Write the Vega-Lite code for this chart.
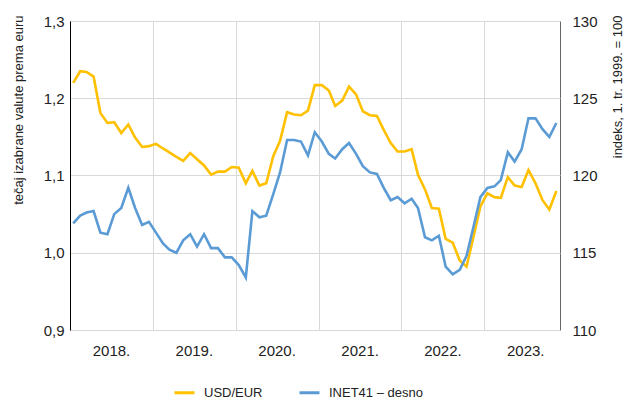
{
  "$schema": "https://vega.github.io/schema/vega-lite/v6.json",
  "width": 490,
  "height": 309,
  "autosize": {"type": "none"},
  "padding": {"left": 70, "top": 21, "right": 64, "bottom": 71},
  "config": {
    "font": "Liberation Sans",
    "view": {"stroke": "#666666", "strokeWidth": 1},
    "axis": {"labelColor": "#222222", "titleColor": "#222222", "labelFont": "Liberation Sans", "titleFont": "Liberation Sans", "titleFontWeight": "normal"},
    "legend": {"labelFont": "Liberation Sans"}
  },
  "datasets": {
    "series": [
      {"m": "2018-01-15", "usd": 1.220, "inet": 116.9},
      {"m": "2018-02-15", "usd": 1.235, "inet": 117.4},
      {"m": "2018-03-15", "usd": 1.234, "inet": 117.6},
      {"m": "2018-04-15", "usd": 1.228, "inet": 117.7},
      {"m": "2018-05-15", "usd": 1.181, "inet": 116.3},
      {"m": "2018-06-15", "usd": 1.168, "inet": 116.2},
      {"m": "2018-07-15", "usd": 1.169, "inet": 117.5},
      {"m": "2018-08-15", "usd": 1.155, "inet": 117.9},
      {"m": "2018-09-15", "usd": 1.166, "inet": 119.2},
      {"m": "2018-10-15", "usd": 1.149, "inet": 117.9},
      {"m": "2018-11-15", "usd": 1.137, "inet": 116.8},
      {"m": "2018-12-15", "usd": 1.138, "inet": 117.0},
      {"m": "2019-01-15", "usd": 1.141, "inet": 116.3},
      {"m": "2019-02-15", "usd": 1.135, "inet": 115.6},
      {"m": "2019-03-15", "usd": 1.130, "inet": 115.2},
      {"m": "2019-04-15", "usd": 1.124, "inet": 115.0},
      {"m": "2019-05-15", "usd": 1.119, "inet": 115.8},
      {"m": "2019-06-15", "usd": 1.129, "inet": 116.2},
      {"m": "2019-07-15", "usd": 1.121, "inet": 115.4},
      {"m": "2019-08-15", "usd": 1.113, "inet": 116.2},
      {"m": "2019-09-15", "usd": 1.101, "inet": 115.3},
      {"m": "2019-10-15", "usd": 1.105, "inet": 115.3},
      {"m": "2019-11-15", "usd": 1.105, "inet": 114.7},
      {"m": "2019-12-15", "usd": 1.111, "inet": 114.7},
      {"m": "2020-01-15", "usd": 1.110, "inet": 114.2},
      {"m": "2020-02-15", "usd": 1.090, "inet": 113.4},
      {"m": "2020-03-15", "usd": 1.106, "inet": 117.7},
      {"m": "2020-04-15", "usd": 1.087, "inet": 117.3},
      {"m": "2020-05-15", "usd": 1.090, "inet": 117.4},
      {"m": "2020-06-15", "usd": 1.125, "inet": 118.8},
      {"m": "2020-07-15", "usd": 1.145, "inet": 120.2},
      {"m": "2020-08-15", "usd": 1.182, "inet": 122.3},
      {"m": "2020-09-15", "usd": 1.179, "inet": 122.3},
      {"m": "2020-10-15", "usd": 1.178, "inet": 122.2},
      {"m": "2020-11-15", "usd": 1.184, "inet": 121.3},
      {"m": "2020-12-15", "usd": 1.217, "inet": 122.8},
      {"m": "2021-01-15", "usd": 1.217, "inet": 122.2},
      {"m": "2021-02-15", "usd": 1.210, "inet": 121.4},
      {"m": "2021-03-15", "usd": 1.190, "inet": 121.1},
      {"m": "2021-04-15", "usd": 1.197, "inet": 121.7},
      {"m": "2021-05-15", "usd": 1.215, "inet": 122.1},
      {"m": "2021-06-15", "usd": 1.205, "inet": 121.4},
      {"m": "2021-07-15", "usd": 1.183, "inet": 120.6},
      {"m": "2021-08-15", "usd": 1.178, "inet": 120.2},
      {"m": "2021-09-15", "usd": 1.177, "inet": 120.1},
      {"m": "2021-10-15", "usd": 1.159, "inet": 119.2},
      {"m": "2021-11-15", "usd": 1.142, "inet": 118.4},
      {"m": "2021-12-15", "usd": 1.131, "inet": 118.6},
      {"m": "2022-01-15", "usd": 1.131, "inet": 118.2},
      {"m": "2022-02-15", "usd": 1.134, "inet": 118.5},
      {"m": "2022-03-15", "usd": 1.101, "inet": 117.9},
      {"m": "2022-04-15", "usd": 1.082, "inet": 116.0},
      {"m": "2022-05-15", "usd": 1.058, "inet": 115.8},
      {"m": "2022-06-15", "usd": 1.057, "inet": 116.1},
      {"m": "2022-07-15", "usd": 1.018, "inet": 114.1},
      {"m": "2022-08-15", "usd": 1.013, "inet": 113.6},
      {"m": "2022-09-15", "usd": 0.990, "inet": 113.9},
      {"m": "2022-10-15", "usd": 0.982, "inet": 114.8},
      {"m": "2022-11-15", "usd": 1.021, "inet": 116.7},
      {"m": "2022-12-15", "usd": 1.060, "inet": 118.6},
      {"m": "2023-01-15", "usd": 1.077, "inet": 119.2},
      {"m": "2023-02-15", "usd": 1.072, "inet": 119.3},
      {"m": "2023-03-15", "usd": 1.071, "inet": 119.7},
      {"m": "2023-04-15", "usd": 1.098, "inet": 121.5},
      {"m": "2023-05-15", "usd": 1.087, "inet": 120.9},
      {"m": "2023-06-15", "usd": 1.085, "inet": 121.7},
      {"m": "2023-07-15", "usd": 1.107, "inet": 123.7},
      {"m": "2023-08-15", "usd": 1.090, "inet": 123.7},
      {"m": "2023-09-15", "usd": 1.068, "inet": 123.0},
      {"m": "2023-10-15", "usd": 1.056, "inet": 122.5},
      {"m": "2023-11-15", "usd": 1.080, "inet": 123.4}
    ]
  },
  "data": {"name": "series"},
  "encoding": {
    "x": {
      "field": "m",
      "type": "temporal",
      "title": null,
      "scale": {"type": "utc", "domain": [{"year": 2018, "month": 1, "date": 1, "utc": true}, {"year": 2023, "month": 12, "date": 1, "utc": true}]},
      "axis": {
        "tickCount": {"interval": "year", "step": 1},
        "format": "%Y.",
        "grid": true,
        "gridColor": "#d9d9d9",
        "gridWidth": 1,
        "ticks": false,
        "domain": false,
        "labelOffset": 41,
        "labelFlush": false,
        "labelOverlap": false,
        "labelFontSize": 15,
        "labelPadding": 13
      }
    }
  },
  "layer": [
    {
      "mark": {"type": "line", "strokeWidth": 2.6},
      "encoding": {
        "y": {
          "field": "usd",
          "type": "quantitative",
          "scale": {"domain": [0.9, 1.3], "nice": false, "zero": false},
          "axis": {
            "values": [0.9, 1.0, 1.1, 1.2, 1.3],
            "labelExpr": "replace(format(datum.value, '.1f'), '.', ',')",
            "grid": true,
            "gridColor": "#d9d9d9",
            "gridWidth": 1,
            "ticks": false,
            "domainColor": "#000000",
            "domainWidth": 1,
            "labelFontSize": 15,
            "labelPadding": 6,
            "title": "tečaj izabrane valute prema euru",
            "titleFontSize": 13,
            "titleAngle": -90,
            "titleAlign": "right",
            "titleBaseline": "middle",
            "titleX": -52,
            "titleY": -6
          }
        },
        "color": {
          "datum": "USD/EUR",
          "type": "nominal",
          "scale": {"domain": ["USD/EUR", "INET41 – desno"], "range": ["#FFC000", "#5B9BD5"]},
          "legend": {
            "title": null,
            "orient": "none",
            "direction": "horizontal",
            "legendX": 103,
            "legendY": 360,
            "symbolType": "stroke",
            "symbolSize": 400,
            "symbolStrokeWidth": 3,
            "labelFontSize": 13,
            "labelColor": "#222222",
            "labelOffset": 8,
            "columnPadding": 30
          }
        }
      }
    },
    {
      "mark": {"type": "line", "strokeWidth": 2.6},
      "encoding": {
        "y": {
          "field": "inet",
          "type": "quantitative",
          "scale": {"domain": [110, 130], "nice": false, "zero": false},
          "axis": {
            "orient": "right",
            "values": [110, 115, 120, 125, 130],
            "grid": false,
            "ticks": false,
            "domain": false,
            "labelFontSize": 15,
            "labelPadding": 12,
            "title": "indeks, 1. tr. 1999. = 100",
            "titleFontSize": 13,
            "titleAngle": -90,
            "titleAlign": "right",
            "titleBaseline": "middle",
            "titleX": 57,
            "titleY": -6
          }
        },
        "color": {"datum": "INET41 – desno", "type": "nominal"}
      }
    }
  ],
  "resolve": {"scale": {"y": "independent"}}
}
